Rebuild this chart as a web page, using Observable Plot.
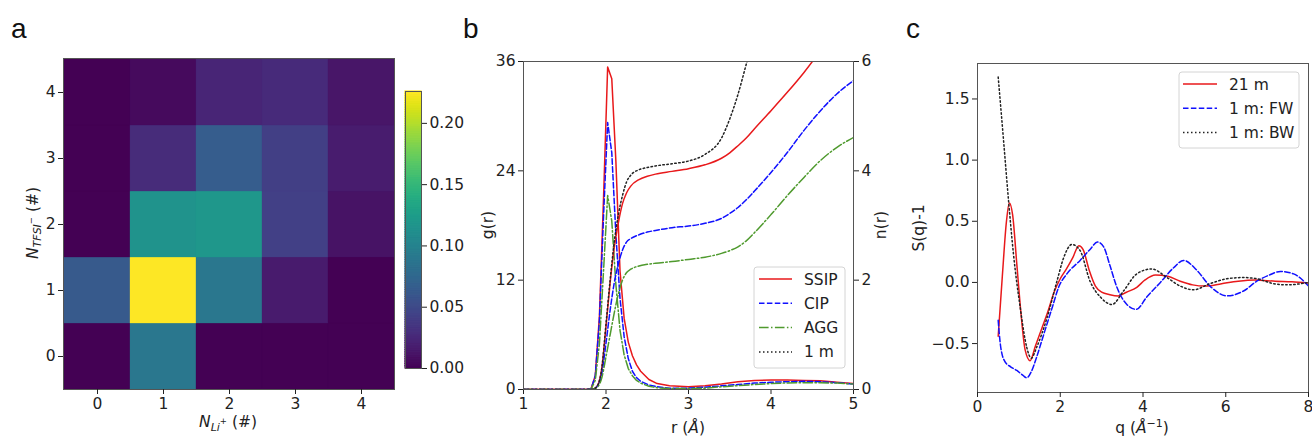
<!DOCTYPE html>
<html><head><meta charset="utf-8">
<script src="https://cdn.jsdelivr.net/npm/d3@7"></script>
<script src="https://cdn.jsdelivr.net/npm/@observablehq/plot@0.6"></script>
<style>
body{margin:0;background:#fff;}
#fig{position:relative;width:1312px;height:438px;overflow:hidden;background:#fff;font-family:"DejaVu Sans",sans-serif;color:#222;}
</style></head>
<body><div id="fig"></div>
<script>
// ---------- Panel a: probability heatmap ----------
const nLi = [0, 1, 2, 3, 4];
const nTFSI = [0, 1, 2, 3, 4];
const probTFSI0 = [0.000, 0.090, 0.000, 0.000, 0.000];
const probTFSI1 = [0.063, 0.226, 0.090, 0.016, 0.000];
const probTFSI2 = [0.000, 0.116, 0.120, 0.043, 0.011];
const probTFSI3 = [0.000, 0.028, 0.066, 0.042, 0.017];
const probTFSI4 = [0.000, 0.006, 0.023, 0.027, 0.013];
const colorbarTicks = [0, 0.05, 0.10, 0.15, 0.20];

// ---------- Panel b: g(r) and n(r) ----------
const rG = [1.0, 1.77, 1.82, 1.87, 1.92, 1.97, 2.02, 2.07, 2.12, 2.17, 2.22, 2.27, 2.32, 2.37, 2.42, 2.52, 2.62, 2.77, 3.0, 3.2, 3.4, 3.6, 3.8, 4.0, 4.2, 4.4, 4.6, 4.8, 5.0];
const gSSIP = [0, 0, 0.1, 1.5, 8, 21, 35.4, 34.1, 25, 13, 7.8, 5.2, 3.7, 2.7, 2.0, 1.1, 0.65, 0.4, 0.3, 0.4, 0.6, 0.85, 1.0, 1.05, 1.05, 1.0, 0.95, 0.8, 0.65];
const gCIP  = [0, 0, 0.1, 1.5, 7.5, 19, 29.3, 26, 17, 10, 5.8, 3.4, 2.0, 1.3, 0.9, 0.5, 0.3, 0.15, 0.15, 0.25, 0.4, 0.55, 0.7, 0.8, 0.85, 0.9, 0.85, 0.75, 0.6];
const gAGG  = [0, 0, 0.05, 1, 5, 13, 21.3, 18.5, 11.5, 6.5, 3.8, 2.3, 1.5, 1.0, 0.7, 0.35, 0.2, 0.1, 0.1, 0.15, 0.3, 0.42, 0.55, 0.65, 0.72, 0.75, 0.75, 0.7, 0.6];
const rN = [1.0, 1.8, 1.85, 1.9, 1.95, 2.0, 2.05, 2.1, 2.15, 2.2, 2.25, 2.3, 2.4, 2.5, 2.6, 2.8, 3.0, 3.2, 3.4, 3.5, 3.6, 3.7, 3.8, 4.0, 4.2, 4.4, 4.6, 4.8, 5.0];
const nSSIP = [0, 0, 0.01, 0.08, 0.4, 1.15, 1.95, 2.6, 3.05, 3.4, 3.6, 3.72, 3.84, 3.9, 3.94, 3.99, 4.04, 4.11, 4.23, 4.33, 4.46, 4.6, 4.77, 5.1, 5.44, 5.8, 6.2, null, null];
const nCIP  = [0, 0, 0.01, 0.07, 0.3, 0.85, 1.45, 1.95, 2.3, 2.55, 2.7, 2.76, 2.83, 2.88, 2.91, 2.96, 2.99, 3.04, 3.13, 3.22, 3.33, 3.47, 3.63, 3.97, 4.34, 4.74, 5.1, 5.41, 5.65];
const nAGG  = [0, 0, 0.01, 0.05, 0.22, 0.6, 1.0, 1.4, 1.75, 2.0, 2.14, 2.2, 2.26, 2.29, 2.31, 2.34, 2.38, 2.42, 2.49, 2.54, 2.61, 2.72, 2.87, 3.2, 3.55, 3.88, 4.19, 4.43, 4.61];
const n1m   = [0, 0, 0.01, 0.08, 0.4, 1.2, 2.0, 2.7, 3.2, 3.55, 3.8, 3.92, 4.02, 4.06, 4.09, 4.13, 4.18, 4.3, 4.6, 4.95, 5.4, 5.95, 6.5, null, null, null, null, null, null];
const gTicks = [0, 12, 24, 36];
const nTicks = [0, 2, 4, 6];
const rTicks = [1, 2, 3, 4, 5];

// ---------- Panel c: S(q)-1 ----------
const q21m = [0.5, 0.6, 0.7, 0.77, 0.85, 0.95, 1.05, 1.15, 1.27, 1.4, 1.55, 1.7, 1.85, 2.0, 2.15, 2.3, 2.45, 2.55, 2.7, 2.85, 3.0, 3.2, 3.4, 3.6, 3.85, 4.05, 4.3, 4.6, 4.9, 5.2, 5.5, 5.9, 6.3, 6.7, 7.2, 7.6, 8.0];
const s21m = [-0.44, 0.05, 0.5, 0.65, 0.55, 0.15, -0.25, -0.55, -0.64, -0.52, -0.38, -0.24, -0.08, 0.03, 0.11, 0.2, 0.3, 0.27, 0.1, -0.03, -0.08, -0.1, -0.11, -0.08, -0.04, 0.02, 0.06, 0.05, 0.01, -0.02, -0.03, -0.01, 0.01, 0.02, 0.01, 0.005, -0.005];
const qFW = [0.5, 0.55, 0.65, 0.8, 0.95, 1.1, 1.19, 1.3, 1.43, 1.55, 1.68, 1.82, 1.96, 2.16, 2.48, 2.72, 2.9, 3.05, 3.2, 3.37, 3.61, 3.84, 4.09, 4.42, 4.74, 4.98, 5.3, 5.62, 6.03, 6.43, 6.75, 7.05, 7.32, 7.64, 8.0];
const sFW = [-0.31, -0.5, -0.64, -0.69, -0.72, -0.76, -0.78, -0.73, -0.61, -0.48, -0.34, -0.19, -0.04, 0.07, 0.18, 0.27, 0.33, 0.29, 0.14, -0.04, -0.18, -0.22, -0.12, 0, 0.12, 0.18, 0.1, -0.03, -0.11, -0.07, 0.01, 0.06, 0.09, 0.07, -0.03];
const qBW = [0.5, 0.63, 0.75, 0.87, 1.03, 1.19, 1.3, 1.43, 1.68, 1.92, 2.08, 2.28, 2.48, 2.72, 2.97, 3.25, 3.53, 3.85, 4.21, 4.58, 4.9, 5.22, 5.62, 6.03, 6.43, 6.75, 7.16, 7.48, 8.0];
const sBW = [1.68, 1.16, 0.67, 0.23, -0.2, -0.53, -0.62, -0.53, -0.29, 0.01, 0.2, 0.31, 0.26, 0.01, -0.12, -0.18, -0.07, 0.07, 0.11, 0.04, -0.03, -0.06, -0.01, 0.03, 0.04, 0.03, -0.01, -0.02, 0];
const qTicks = [0, 2, 4, 6, 8];
const sTicks = [-0.5, 0, 0.5, 1.0, 1.5];

// ---------- styles ----------
const RED = "#e8191b", BLUE = "#1010ff", GREEN = "#4f9a2e", BLACK = "#222";
const DASH = "5.5,2.4", DASHDOT = "9.6,2.4,1.5,2.4", DOT = "1.5,2.5";
const FRAME = "#555";
const baseStyle = {fontFamily: '"DejaVu Sans", sans-serif', fontSize: "15.5px", color: "#222", background: "transparent", overflow: "visible"};
const fig = document.getElementById("fig");
function place(svg, left) {
  svg.style.position = "absolute"; svg.style.left = left + "px"; svg.style.top = "0px";
  fig.appendChild(svg);
}
const pairs = (xs, ys, xk, yk) => xs.map((x, i) => ({[xk]: x, [yk]: ys[i]}));

// ---------- Panel a ----------
const probRows = [probTFSI0, probTFSI1, probTFSI2, probTFSI3, probTFSI4];
const cells = [];
nTFSI.forEach((t, i) => nLi.forEach((l, j) => cells.push({li: l, tfsi: t, p: probRows[i][j]})));
const pMax = d3.max(cells, d => d.p);

place(Plot.plot({
  width: 400, height: 438, marginLeft: 63, marginRight: 6, marginTop: 58, marginBottom: 49,
  style: baseStyle,
  x: {type: "band", domain: nLi, padding: 0, label: null},
  y: {type: "band", domain: [...nTFSI].reverse(), padding: 0, label: null},
  color: {scheme: "viridis", domain: [0, pMax]},
  marks: [
    Plot.cell(cells, {x: "li", y: "tfsi", fill: "p", inset: 0, stroke: "p", strokeWidth: 0.3}),
    Plot.frame({stroke: FRAME}),
    Plot.axisX({tickSize: 5, tickPadding: 3, label: null}),
    Plot.axisY({tickSize: 5, tickPadding: 3, label: null})
  ]
}), 0);

// colorbar
const cbSteps = d3.range(0, 120).map(i => ({v1: i * pMax / 120, v2: (i + 1) * pMax / 120}));
place(Plot.plot({
  width: 70, height: 438, marginLeft: 5, marginRight: 49, marginTop: 91, marginBottom: 70,
  style: baseStyle,
  x: {domain: [0, 1], axis: null},
  y: {domain: [0, pMax], label: null},
  color: {scheme: "viridis", domain: [0, pMax]},
  marks: [
    Plot.rect(cbSteps, {x1: 0, x2: 1, y1: "v1", y2: "v2", inset: 0,
      fill: d => (d.v1 + d.v2) / 2, stroke: d => (d.v1 + d.v2) / 2, strokeWidth: 1.2}),
    Plot.frame({stroke: FRAME}),
    Plot.axisY({anchor: "right", ticks: colorbarTicks, tickFormat: ".2f", tickSize: 5, tickPadding: 3, label: null})
  ]
}), 400);

// ---------- Panel b ----------
const bDims = {width: 460, height: 438, marginLeft: 83, marginRight: 47, marginTop: 61, marginBottom: 49};
place(Plot.plot({
  ...bDims, style: baseStyle,
  x: {domain: [1, 5], label: null},
  y: {domain: [0, 36], label: null},
  marks: [
    Plot.line(pairs(rG, gSSIP, "r", "g"), {x: "r", y: "g", stroke: RED, strokeWidth: 1.5, clip: true}),
    Plot.line(pairs(rG, gCIP, "r", "g"), {x: "r", y: "g", stroke: BLUE, strokeWidth: 1.5, strokeDasharray: DASH, clip: true}),
    Plot.line(pairs(rG, gAGG, "r", "g"), {x: "r", y: "g", stroke: GREEN, strokeWidth: 1.5, strokeDasharray: DASHDOT, clip: true}),
    Plot.axisX({ticks: rTicks, tickFormat: "d", tickSize: 5, tickPadding: 3, label: null}),
    Plot.axisY({ticks: gTicks, tickFormat: "d", tickSize: 5, tickPadding: 3, label: null})
  ]
}), 440);
place(Plot.plot({
  ...bDims, style: baseStyle,
  x: {domain: [1, 5], label: null, axis: null},
  y: {domain: [0, 6], label: null},
  marks: [
    Plot.line(pairs(rN, nSSIP, "r", "n"), {x: "r", y: "n", stroke: RED, strokeWidth: 1.5, curve: "monotone-x", clip: true}),
    Plot.line(pairs(rN, nCIP, "r", "n"), {x: "r", y: "n", stroke: BLUE, strokeWidth: 1.5, strokeDasharray: DASH, curve: "monotone-x", clip: true}),
    Plot.line(pairs(rN, nAGG, "r", "n"), {x: "r", y: "n", stroke: GREEN, strokeWidth: 1.5, strokeDasharray: DASHDOT, curve: "monotone-x", clip: true}),
    Plot.line(pairs(rN, n1m, "r", "n"), {x: "r", y: "n", stroke: BLACK, strokeWidth: 1.5, strokeDasharray: DOT, curve: "monotone-x", clip: true}),
    Plot.frame({stroke: FRAME}),
    Plot.axisY({anchor: "right", ticks: nTicks, tickFormat: "d", tickSize: 5, tickPadding: 3, label: null})
  ]
}), 440);

// ---------- Panel c ----------
place(Plot.plot({
  width: 412, height: 438, marginLeft: 77, marginRight: 4, marginTop: 63, marginBottom: 46,
  style: baseStyle,
  x: {domain: [0, 8], label: null},
  y: {domain: [-0.9, 1.79], label: null},
  marks: [
    Plot.line(pairs(q21m, s21m, "q", "s"), {x: "q", y: "s", stroke: RED, strokeWidth: 1.5, curve: "monotone-x", clip: true}),
    Plot.line(pairs(qFW, sFW, "q", "s"), {x: "q", y: "s", stroke: BLUE, strokeWidth: 1.5, strokeDasharray: DASH, curve: "monotone-x", clip: true}),
    Plot.line(pairs(qBW, sBW, "q", "s"), {x: "q", y: "s", stroke: BLACK, strokeWidth: 1.5, strokeDasharray: DOT, curve: "monotone-x", clip: true}),
    Plot.frame({stroke: FRAME}),
    Plot.axisX({ticks: qTicks, tickFormat: "d", tickSize: 5, tickPadding: 3, label: null}),
    Plot.axisY({ticks: sTicks, tickFormat: ".1f", tickSize: 5, tickPadding: 3, label: null})
  ]
}), 900);

// ---------- annotations: panel letters, axis titles, legends ----------
function legendSVG(x, y, w, h, items, sx1, sx2, tx, y0, dy) {
  let s = `<rect x="${x}" y="${y}" width="${w}" height="${h}" rx="3" fill="#fff" fill-opacity="0.8" stroke="#d4d4d4"/>`;
  items.forEach((it, i) => {
    const yy = y0 + i * dy;
    s += `<line x1="${sx1}" x2="${sx2}" y1="${yy}" y2="${yy}" stroke="${it.c}" stroke-width="1.5" ${it.d ? `stroke-dasharray="${it.d}"` : ""}/>`;
    s += `<text x="${tx}" y="${yy + 5.5}" font-size="15.5">${it.t}</text>`;
  });
  return s;
}
const ov = document.createElementNS("http://www.w3.org/2000/svg", "svg");
ov.setAttribute("width", 1312); ov.setAttribute("height", 438);
ov.style.position = "absolute"; ov.style.left = "0"; ov.style.top = "0"; ov.style.pointerEvents = "none";
ov.setAttribute("font-family", '"DejaVu Sans", sans-serif');
ov.setAttribute("fill", "#222");
ov.innerHTML = `
<g font-family="'Liberation Sans', Arial, sans-serif" font-size="28" fill="#111">
  <text x="11" y="38">a</text><text x="463" y="38">b</text><text x="906" y="38">c</text>
</g>
<g font-size="15.5">
  <text x="228" y="427" text-anchor="middle"><tspan font-style="italic">N</tspan><tspan font-style="italic" font-size="11" dy="3.5">Li</tspan><tspan font-size="8.5" dy="-7">+</tspan><tspan dy="3.5"> (#)</tspan></text>
  <text transform="translate(38,223) rotate(-90)" text-anchor="middle"><tspan font-style="italic">N</tspan><tspan font-style="italic" font-size="11" dy="3">TFSI</tspan><tspan font-size="8.5" dy="-7">−</tspan><tspan dy="4"> (#)</tspan></text>
  <text transform="translate(493,225) rotate(-90)" text-anchor="middle">g(r)</text>
  <text transform="translate(886,225) rotate(-90)" text-anchor="middle">n(r)</text>
  <text x="688" y="433" text-anchor="middle">r (<tspan font-style="italic">Å</tspan>)</text>
  <text transform="translate(924,228) rotate(-90)" text-anchor="middle">S(q)-1</text>
  <text x="1142" y="433" text-anchor="middle">q (<tspan font-style="italic">Å</tspan><tspan font-size="11" dy="-6">−1</tspan><tspan dy="6">)</tspan></text>
</g>
${legendSVG(754, 267, 91, 101, [
  {t: "SSIP", c: RED}, {t: "CIP", c: BLUE, d: DASH}, {t: "AGG", c: GREEN, d: DASHDOT}, {t: "1 m", c: BLACK, d: DOT}
], 759, 792, 804, 279, 24.3)}
${legendSVG(1179, 72, 120, 76, [
  {t: "21 m", c: RED}, {t: "1 m: FW", c: BLUE, d: DASH}, {t: "1 m: BW", c: BLACK, d: DOT}
], 1183, 1217, 1229, 84, 24.3)}
`;
fig.appendChild(ov);
</script>
</body></html>
